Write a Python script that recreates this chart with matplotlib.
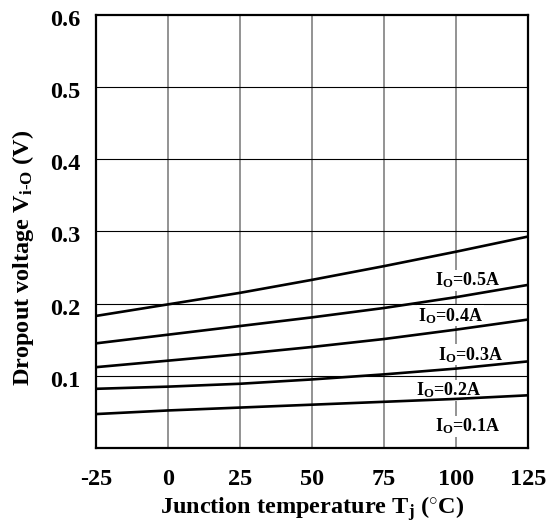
import matplotlib
matplotlib.use("Agg")
import matplotlib.pyplot as plt
import matplotlib.transforms as mtransforms

plt.rcParams['font.family'] = ['Liberation Serif', 'DejaVu Serif']
plt.rcParams['font.weight'] = 'bold'
plt.rcParams['mathtext.fontset'] = 'custom'
plt.rcParams['mathtext.rm'] = 'Liberation Serif:bold'
plt.rcParams['mathtext.bf'] = 'Liberation Serif:bold'
plt.rcParams['mathtext.it'] = 'Liberation Serif:bold'

temps = [-25, 0, 25, 50, 75, 100, 125]
v_05 = [0.183, 0.199, 0.215, 0.233, 0.252, 0.272, 0.293]
v_04 = [0.145, 0.157, 0.169, 0.181, 0.194, 0.209, 0.226]
v_03 = [0.112, 0.121, 0.130, 0.140, 0.151, 0.164, 0.178]
v_02 = [0.082, 0.085, 0.089, 0.095, 0.102, 0.110, 0.120]
v_01 = [0.047, 0.052, 0.056, 0.060, 0.064, 0.068, 0.073]
series = [v_05, v_04, v_03, v_02, v_01]
labels = ["0.5A", "0.4A", "0.3A", "0.2A", "0.1A"]
label_pos = [(104, 0.232), (98, 0.183), (105, 0.129), (97.5, 0.080), (104, 0.030)]

xticks = [-25, 0, 25, 50, 75, 100, 125]
yticks = [0.1, 0.2, 0.3, 0.4, 0.5, 0.6]

fig = plt.figure(figsize=(5.51, 5.25), dpi=100)
ax = fig.add_axes([0.1742, 0.1467, 0.7841, 0.8247])
ax.set_xlim(-25, 125)
ax.set_ylim(0, 0.6)

for x in xticks[1:-1]:
    ax.axvline(x, color='#808080', lw=1.2, zorder=1)
for y in yticks[:-1]:
    ax.axhline(y, color='black', lw=0.8, zorder=1)

for vals in series:
    ax.plot(temps, vals, color='black', lw=1.9, zorder=3, solid_capstyle='butt')

for lab, (lx, ly) in zip(labels, label_pos):
    ax.text(lx, ly, r"I$_{\mathbf{O}}$=" + lab, ha='center', va='center',
            fontsize=13, fontweight='bold', zorder=2,
            bbox=dict(facecolor='white', edgecolor='none', pad=0.5))

ax.set_xticks(xticks)
ax.set_xticklabels([str(t) for t in xticks], fontsize=17.5, fontweight='bold')
ax.set_yticks(yticks)
ax.set_yticklabels([f"{t:.1f}" for t in yticks], fontsize=17.5, fontweight='bold')
ax.tick_params(axis='x', length=0, pad=15)
ax.tick_params(axis='y', length=0, pad=11)

offset = mtransforms.ScaledTranslation(0, -3 / 100, fig.dpi_scale_trans)
for lbl in ax.get_yticklabels():
    lbl.set_transform(lbl.get_transform() + offset)

for s in ax.spines.values():
    s.set_linewidth(1.6)
    s.set_zorder(4)

fig.text(312 / 551, 1 - 514 / 525,
         r"Junction temperature T$_{\mathbf{j}}$ ($^{\circ}$C)",
         fontsize=17.5, fontweight='bold', ha='center', va='baseline')
fig.text(23 / 551, 1 - 258 / 525,
         r"Dropout voltage V$_{\mathbf{i\text{-}O}}$ (V)",
         fontsize=17.5, fontweight='bold', ha='center', va='center', rotation=90)

fig.savefig("out.png", dpi=100)
